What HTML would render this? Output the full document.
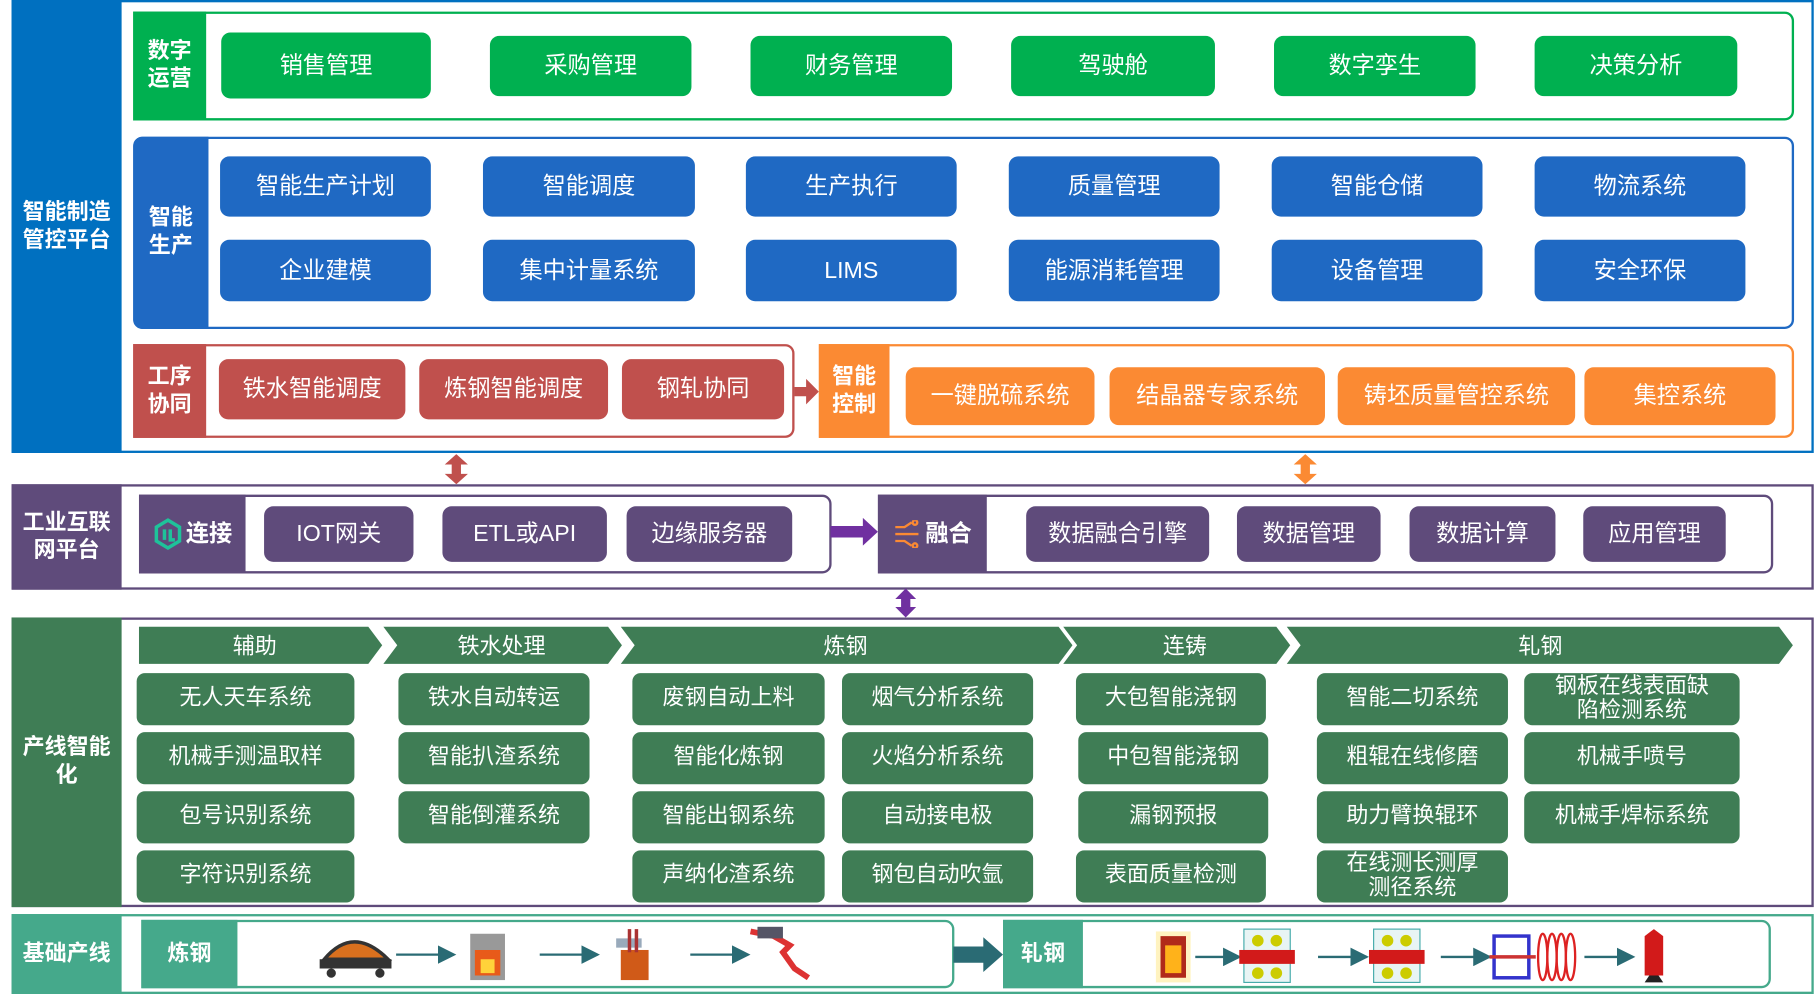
<!DOCTYPE html>
<html><head><meta charset="utf-8"><style>
html,body{margin:0;padding:0;background:#fff;overflow:hidden}
#w{position:absolute;left:0;top:0;width:1568px;height:858px;transform:scale(1.1582,1.1585);transform-origin:0 0;font-family:"Liberation Sans","Noto Sans CJK SC",sans-serif}
#w div{position:absolute;box-sizing:border-box}
.b{display:flex;align-items:center;justify-content:center;color:#fff;border-radius:8px;font-size:20px;text-align:center;line-height:1.1}
.l{display:flex;align-items:center;justify-content:center;color:#fff;font-weight:bold;font-size:19px;text-align:center;line-height:1.25}
.g{background:#00b050}.bl{background:#1f69c3}.r{background:#c0504d}.o{background:#fb8a33}.p{background:#5f4b7b}.dg{background:#3f7d55}.t{background:#45a98b}
.s{font-size:19px;border-radius:7px}
</style></head><body><div id="w">
<!-- top section -->
<div style="left:10px;top:0;width:1556px;height:391px;border:2px solid #0070c0"></div>
<div class="l" style="left:10px;top:0;width:95px;height:391px;background:#0070c0">智能制造<br>管控平台</div>

<div style="left:115px;top:10px;width:1434px;height:94px;border:2px solid #00b050;border-radius:0 8px 8px 0"></div>
<div class="l g" style="left:115px;top:10px;width:63px;height:94px">数字<br>运营</div>
<div class="b g" style="left:191px;top:28px;width:181px;height:57px">销售管理</div>
<div class="b g" style="left:423px;top:31px;width:174px;height:52px">采购管理</div>
<div class="b g" style="left:648px;top:31px;width:174px;height:52px">财务管理</div>
<div class="b g" style="left:873px;top:31px;width:176px;height:52px">驾驶舱</div>
<div class="b g" style="left:1100px;top:31px;width:174px;height:52px">数字孪生</div>
<div class="b g" style="left:1325px;top:31px;width:175px;height:52px">决策分析</div>

<div style="left:115px;top:118px;width:1434px;height:166px;border:2px solid #1f69c3;border-radius:8px"></div>
<div class="l bl" style="left:115px;top:118px;width:65px;height:166px;border-radius:8px 0 0 8px">智能<br>生产</div>
<div class="b bl" style="left:190px;top:135px;width:182px;height:52px">智能生产计划</div>
<div class="b bl" style="left:417px;top:135px;width:183px;height:52px">智能调度</div>
<div class="b bl" style="left:644px;top:135px;width:182px;height:52px">生产执行</div>
<div class="b bl" style="left:871px;top:135px;width:182px;height:52px">质量管理</div>
<div class="b bl" style="left:1098px;top:135px;width:182px;height:52px">智能仓储</div>
<div class="b bl" style="left:1325px;top:135px;width:182px;height:52px">物流系统</div>
<div class="b bl" style="left:190px;top:207px;width:182px;height:53px">企业建模</div>
<div class="b bl" style="left:417px;top:207px;width:183px;height:53px">集中计量系统</div>
<div class="b bl" style="left:644px;top:207px;width:182px;height:53px">LIMS</div>
<div class="b bl" style="left:871px;top:207px;width:182px;height:53px">能源消耗管理</div>
<div class="b bl" style="left:1098px;top:207px;width:182px;height:53px">设备管理</div>
<div class="b bl" style="left:1325px;top:207px;width:182px;height:53px">安全环保</div>

<div style="left:115px;top:297px;width:571px;height:81px;border:2px solid #c0504d;border-radius:0 8px 8px 0"></div>
<div class="l r" style="left:115px;top:297px;width:63px;height:81px">工序<br>协同</div>
<div class="b r" style="left:189px;top:310px;width:161px;height:52px">铁水智能调度</div>
<div class="b r" style="left:362px;top:310px;width:163px;height:52px">炼钢智能调度</div>
<div class="b r" style="left:537px;top:310px;width:140px;height:52px">钢轧协同</div>
<svg style="position:absolute;left:686px;top:326px" width="22" height="24"><path d="M0 8h10V1l11 11-11 11v-7H0z" fill="#c0504d"/></svg>

<div style="left:707px;top:297px;width:842px;height:81px;border:2px solid #fb8a33;border-radius:0 8px 8px 0"></div>
<div class="l o" style="left:707px;top:297px;width:61px;height:81px">智能<br>控制</div>
<div class="b o" style="left:782px;top:317px;width:163px;height:50px">一键脱硫系统</div>
<div class="b o" style="left:958px;top:317px;width:186px;height:50px">结晶器专家系统</div>
<div class="b o" style="left:1155px;top:317px;width:205px;height:50px">铸坯质量管控系统</div>
<div class="b o" style="left:1368px;top:317px;width:165px;height:50px">集控系统</div>

<svg style="position:absolute;left:383px;top:392px" width="22" height="26"><path d="M11 0l10 9h-6v8h6l-10 9L1 17h6V9H1z" fill="#c0504d"/></svg>
<svg style="position:absolute;left:1116px;top:392px" width="22" height="26"><path d="M11 0l10 9h-6v8h6l-10 9L1 17h6V9H1z" fill="#fb8a33"/></svg>

<!-- IIoT -->
<div style="left:10px;top:418px;width:1556px;height:91px;border:2px solid #5f4b7b"></div>
<div class="l p" style="left:10px;top:418px;width:95px;height:91px">工业互联<br>网平台</div>
<div style="left:120px;top:427px;width:598px;height:68px;border:2px solid #5f4b7b;border-radius:0 8px 8px 0"></div>
<div class="l p" style="left:120px;top:427px;width:92px;height:68px;font-size:20px"><svg width="26" height="28" style="margin-right:3px"><path d="M13 2l10 6v12l-10 6-10-6V8z" fill="none" stroke="#1ec39a" stroke-width="3"/><path d="M10 10v9M15 10v9h4" stroke="#1ec39a" stroke-width="3" fill="none"/></svg>连接</div>
<div class="b p" style="left:228px;top:437px;width:129px;height:48px">IOT网关</div>
<div class="b p" style="left:382px;top:437px;width:142px;height:48px">ETL或API</div>
<div class="b p" style="left:541px;top:437px;width:143px;height:48px">边缘服务器</div>
<svg style="position:absolute;left:717px;top:446px" width="42" height="26"><path d="M0 8h28V1l13 12-13 12v-7H0z" fill="#7030a0"/></svg>
<div style="left:758px;top:427px;width:773px;height:68px;border:2px solid #5f4b7b;border-radius:0 8px 8px 0"></div>
<div class="l p" style="left:758px;top:427px;width:94px;height:68px;font-size:20px"><svg width="24" height="24" style="margin-right:4px"><g stroke="#fb8a33" stroke-width="2" fill="none"><path d="M2 6h8l6-4M2 12h20M2 18h8l6 4"/><circle cx="19" cy="2" r="2"/><circle cx="19" cy="22" r="2"/></g></svg>融合</div>
<div class="b p" style="left:886px;top:437px;width:158px;height:48px">数据融合引擎</div>
<div class="b p" style="left:1068px;top:437px;width:124px;height:48px">数据管理</div>
<div class="b p" style="left:1217px;top:437px;width:126px;height:48px">数据计算</div>
<div class="b p" style="left:1367px;top:437px;width:123px;height:48px">应用管理</div>
<svg style="position:absolute;left:772px;top:508px" width="20" height="25"><path d="M10 0l9 9h-5v7h5l-9 9-9-9h5V9H1z" fill="#7030a0"/></svg>

<!-- production line -->
<div style="left:10px;top:533px;width:1556px;height:250px;border:2px solid #5f4b7b"></div>
<div class="l dg" style="left:10px;top:533px;width:95px;height:250px">产线智能<br>化</div>
<svg style="position:absolute;left:118px;top:540px" width="1432" height="34">
<g fill="#3f7d55"><path d="M2 1h198l12 16-12 16H2z"/><path d="M213 1h194l12 16-12 16H213l12-16z"/><path d="M418 1h378l12 16-12 16H418l12-16z"/><path d="M800 1h184l12 16-12 16H800l12-16z"/><path d="M993 1h425l12 16-12 16H993l12-16z"/></g>
<g fill="#fff" font-size="19" text-anchor="middle" font-family="Liberation Sans,Noto Sans CJK SC,sans-serif"><text x="102" y="24">辅助</text><text x="315" y="24">铁水处理</text><text x="612" y="24">炼钢</text><text x="905" y="24">连铸</text><text x="1212" y="24">轧钢</text></g></svg>

<div class="b dg s" style="left:118px;top:581px;width:188px;height:45px">无人天车系统</div>
<div class="b dg s" style="left:118px;top:632px;width:188px;height:45px">机械手测温取样</div>
<div class="b dg s" style="left:118px;top:683px;width:188px;height:45px">包号识别系统</div>
<div class="b dg s" style="left:118px;top:734px;width:188px;height:45px">字符识别系统</div>
<div class="b dg s" style="left:344px;top:581px;width:165px;height:45px">铁水自动转运</div>
<div class="b dg s" style="left:344px;top:632px;width:165px;height:45px">智能扒渣系统</div>
<div class="b dg s" style="left:344px;top:683px;width:165px;height:45px">智能倒灌系统</div>
<div class="b dg s" style="left:546px;top:581px;width:166px;height:45px">废钢自动上料</div>
<div class="b dg s" style="left:546px;top:632px;width:166px;height:45px">智能化炼钢</div>
<div class="b dg s" style="left:546px;top:683px;width:166px;height:45px">智能出钢系统</div>
<div class="b dg s" style="left:546px;top:734px;width:166px;height:45px">声纳化渣系统</div>
<div class="b dg s" style="left:727px;top:581px;width:165px;height:45px">烟气分析系统</div>
<div class="b dg s" style="left:727px;top:632px;width:165px;height:45px">火焰分析系统</div>
<div class="b dg s" style="left:727px;top:683px;width:165px;height:45px">自动接电极</div>
<div class="b dg s" style="left:727px;top:734px;width:165px;height:45px">钢包自动吹氩</div>
<div class="b dg s" style="left:929px;top:581px;width:164px;height:45px">大包智能浇钢</div>
<div class="b dg s" style="left:931px;top:632px;width:164px;height:45px">中包智能浇钢</div>
<div class="b dg s" style="left:931px;top:683px;width:164px;height:45px">漏钢预报</div>
<div class="b dg s" style="left:929px;top:734px;width:164px;height:45px">表面质量检测</div>
<div class="b dg s" style="left:1137px;top:581px;width:165px;height:45px">智能二切系统</div>
<div class="b dg s" style="left:1137px;top:632px;width:165px;height:45px">粗辊在线修磨</div>
<div class="b dg s" style="left:1137px;top:683px;width:165px;height:45px">助力臂换辊环</div>
<div class="b dg s" style="left:1137px;top:734px;width:165px;height:45px">在线测长测厚<br>测径系统</div>
<div class="b dg s" style="left:1316px;top:581px;width:186px;height:45px">钢板在线表面缺<br>陷检测系统</div>
<div class="b dg s" style="left:1316px;top:632px;width:186px;height:45px">机械手喷号</div>
<div class="b dg s" style="left:1316px;top:683px;width:186px;height:45px">机械手焊标系统</div>

<!-- base line -->
<div style="left:10px;top:789px;width:1556px;height:69px;border:2px solid #45a98b"></div>
<div class="l t" style="left:10px;top:789px;width:95px;height:69px">基础产线</div>
<div style="left:122px;top:794px;width:702px;height:59px;border:2px solid #45a98b;border-radius:0 8px 8px 0"></div>
<div class="l t" style="left:122px;top:794px;width:83px;height:59px">炼钢</div>
<div style="left:866px;top:794px;width:663px;height:59px;border:2px solid #45a98b;border-radius:0 8px 8px 0"></div>
<div class="l t" style="left:866px;top:794px;width:69px;height:59px">轧钢</div>
<svg style="position:absolute;left:823px;top:808px" width="44" height="32"><path d="M0 9h26V1l17 15-17 15v-8H0z" fill="#2a6b74"/></svg>

<svg style="position:absolute;left:270px;top:798px" width="470" height="55">
<defs><marker id="a" markerWidth="8" markerHeight="8" refX="7" refY="4" orient="auto"><path d="M0 0L8 4 0 8z" fill="#2a6b74"/></marker></defs>
<g stroke="#2a6b74" stroke-width="2" marker-end="url(#a)"><line x1="72" y1="26" x2="122" y2="26"/><line x1="196" y1="26" x2="246" y2="26"/><line x1="326" y1="26" x2="376" y2="26"/></g>
<path d="M10 30q25-30 55 0z" fill="#d9701e" stroke="#333" stroke-width="3"/><rect x="6" y="30" width="62" height="8" fill="#333"/><circle cx="16" cy="42" r="4" fill="#333"/><circle cx="58" cy="42" r="4" fill="#333"/>
<rect x="136" y="8" width="30" height="40" fill="#999"/><path d="M140 22h22v22h-22z" fill="#e85a1a"/><path d="M145 30h12v12h-12z" fill="#ffd23a"/>
<rect x="262" y="12" width="22" height="8" fill="#9ab"/><rect x="266" y="22" width="24" height="26" fill="#d05a18"/><rect x="272" y="4" width="3" height="20" fill="#a33"/><rect x="278" y="4" width="3" height="20" fill="#a33"/>
<path d="M378 6l20 4 14 8-6 6 10 14 12 8" fill="none" stroke="#d33" stroke-width="5"/><rect x="384" y="2" width="22" height="10" fill="#556" />
</svg>
<svg style="position:absolute;left:990px;top:798px" width="470" height="55">
<g stroke="#2a6b74" stroke-width="2" marker-end="url(#a)"><line x1="42" y1="28" x2="80" y2="28"/><line x1="148" y1="28" x2="190" y2="28"/><line x1="254" y1="28" x2="296" y2="28"/><line x1="378" y1="28" x2="420" y2="28"/></g>
<rect x="8" y="6" width="30" height="44" fill="#fff3c0"/><path d="M12 10h22v36h-22z" fill="#b02a1a"/><path d="M16 18h14v24h-14z" fill="#ffb21a"/>
<rect x="84" y="4" width="40" height="46" fill="#e8f4f4" stroke="#4aa"/><rect x="80" y="22" width="48" height="12" fill="#d21a1a"/><circle cx="96" cy="14" r="5" fill="#cc0"/><circle cx="112" cy="14" r="5" fill="#cc0"/><circle cx="96" cy="42" r="5" fill="#cc0"/><circle cx="112" cy="42" r="5" fill="#cc0"/>
<rect x="196" y="4" width="40" height="46" fill="#e8f4f4" stroke="#4aa"/><rect x="192" y="22" width="48" height="12" fill="#d21a1a"/><circle cx="208" cy="14" r="5" fill="#cc0"/><circle cx="224" cy="14" r="5" fill="#cc0"/><circle cx="208" cy="42" r="5" fill="#cc0"/><circle cx="224" cy="42" r="5" fill="#cc0"/>
<rect x="300" y="10" width="30" height="36" fill="none" stroke="#33c" stroke-width="3"/><line x1="296" y1="28" x2="336" y2="28" stroke="#c33" stroke-width="3"/>
<g fill="none" stroke="#d22" stroke-width="2"><ellipse cx="342" cy="28" rx="4" ry="20"/><ellipse cx="350" cy="28" rx="4" ry="20"/><ellipse cx="358" cy="28" rx="4" ry="20"/><ellipse cx="366" cy="28" rx="4" ry="20"/></g>
<path d="M430 10l8-6 8 6v34h-16z" fill="#d21a1a"/><path d="M434 44h8l4 6h-16z" fill="#222"/>
</svg>
</div></body></html>
